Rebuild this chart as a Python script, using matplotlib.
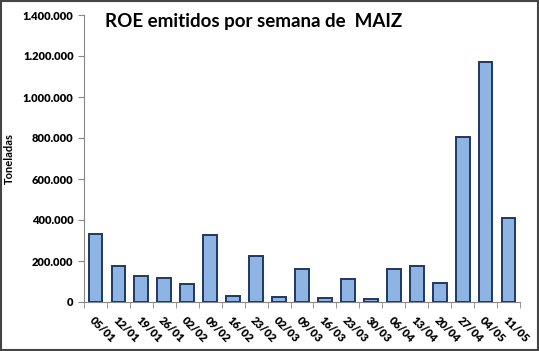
import matplotlib.pyplot as plt
import matplotlib.ticker as mticker
import numpy as np

semanas = ["05/01", "12/01", "19/01", "26/01", "02/02", "09/02", "16/02", "23/02",
           "02/03", "09/03", "16/03", "23/03", "30/03", "06/04", "13/04", "20/04",
           "27/04", "04/05", "11/05"]
toneladas = [330000, 174000, 127000, 119000, 89000, 325000, 29000, 226000,
             24000, 160000, 21000, 114000, 15000, 163000, 174000, 93000,
             805000, 1171000, 408000]

plt.rcParams["font.family"] = ["Lato", "DejaVu Sans"]

fig = plt.figure(figsize=(5.39, 3.51), dpi=100)
ax = fig.add_axes([84 / 539, 1 - 302 / 351, (520 - 84) / 539, (302 - 15) / 351])

x = np.arange(len(semanas))
ax.bar(x, toneladas, width=0.6, color="#8DB4E2", edgecolor="#1F3864", linewidth=1.4, zorder=3)

ax.set_xlim(-0.5, len(semanas) - 0.5)
ax.set_ylim(0, 1400000)
ax.yaxis.set_major_locator(mticker.MultipleLocator(200000))
ax.yaxis.set_major_formatter(mticker.FuncFormatter(lambda v, p: f"{v:,.0f}".replace(",", ".")))

ax.set_xticks(x)
ax.set_xticklabels(semanas, rotation=-45, ha="left", va="top", rotation_mode="anchor",
                   fontsize=8, fontweight="heavy")
ax.set_xticks(np.arange(len(semanas) + 1) - 0.5, minor=True)
ax.tick_params(axis="x", which="major", length=0, pad=9)
ax.tick_params(axis="x", which="minor", length=4, color="#888888")
ax.tick_params(axis="y", length=4, color="#888888", labelsize=8)
for lbl in ax.get_yticklabels():
    lbl.set_fontweight("heavy")

for s in ["top", "right"]:
    ax.spines[s].set_visible(False)
for s in ["left", "bottom"]:
    ax.spines[s].set_color("#888888")

ax.set_ylabel("Toneladas", fontsize=8, fontweight="bold", labelpad=6)
fig.text(105 / 539, 1 - 22 / 351, "ROE emitidos por semana de  MAIZ", fontsize=13.5,
         fontweight="bold", va="center", ha="left")

# marco
fig.patches.append(plt.Rectangle((0.002, 0.003), 0.996, 0.994, transform=fig.transFigure,
                                 fill=False, edgecolor="#444444", linewidth=1.5))

plt.savefig("out.png", dpi=100)
